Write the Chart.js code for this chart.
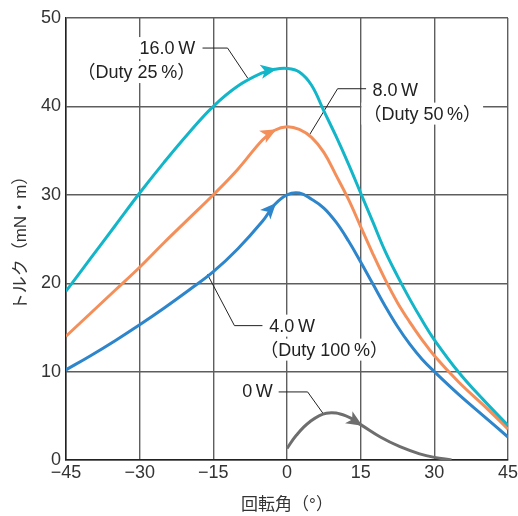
<!DOCTYPE html>
<html lang="ja">
<head>
<meta charset="UTF-8">
<title>トルク特性</title>
<script src="https://cdn.jsdelivr.net/npm/chart.js"></script>
<style>
  body { margin: 0; background: #fff; }
  #wrap { width: 518px; height: 516px; }
</style>
</head>
<body>
<div id="wrap"><canvas id="torqueChart"></canvas></div>
<script>
// rotation angle (deg) shared by the three powered curves
const angles = [-45, -40, -35, -30, -25, -20, -15, -10, -5, -2.5, 0, 2.5, 5, 7.5, 10, 12.5, 15, 17.5, 20, 22.5, 25, 27.5, 30, 35, 40, 45];
const torque16W = [19.1, 22.8, 26.5, 30.2, 33.7, 37.0, 40.0, 42.3, 43.8, 44.2, 44.3, 43.9, 42.4, 39.5, 36.6, 33.5, 30.2, 26.9, 23.6, 20.8, 18.2, 15.8, 13.6, 9.9, 6.8, 3.9];
const torque8W  = [14.0, 16.6, 19.2, 21.8, 24.6, 27.3, 30.0, 32.9, 36.2, 37.3, 37.7, 37.4, 36.5, 34.8, 32.2, 29.5, 26.4, 23.3, 20.4, 17.8, 15.6, 13.6, 11.8, 8.8, 6.2, 3.5];
const torque4W  = [10.2, 11.8, 13.5, 15.3, 17.2, 19.2, 21.3, 23.9, 27.0, 28.9, 30.0, 30.2, 29.5, 28.5, 26.9, 24.8, 22.4, 19.9, 17.4, 15.1, 13.1, 11.4, 10.0, 7.4, 5.0, 2.6];
// 0 W (detent torque) curve
const anglesOff = [0, 1.9, 4.6, 8, 12, 15, 19, 23, 27, 30, 33.5];
const torque0W  = [1.3, 2.8, 4.3, 5.3, 5.0, 4.0, 2.6, 1.5, 0.7, 0.3, 0];

const xTickValues = [-45, -30, -15, 0, 15, 30, 45];
const xTickLabels = ['\u221245', '\u221230', '\u221215', '0', '15', '30', '45'];
const yTickValues = [0, 10, 20, 30, 40, 50];

const toPoints = (xs, ys) => xs.map((x, i) => ({ x: x, y: ys[i] }));

// callout labels: text anchor and leader path in data units
const callouts = [
  { lines: ['16.0\u2009W', '（Duty 25\u2009%）'], align: 'right', at: [-18.7, 46.6], leader: [[-17.2, 46.6], [-12.1, 46.6], [-8.0, 43.2]] },
  { lines: ['8.0\u2009W', '（Duty 50\u2009%）'], align: 'left', at: [17.4, 41.9], leader: [[16.1, 42.0], [10.3, 42.0], [4.6, 36.8]] },
  { lines: ['4.0\u2009W', '（Duty 100\u2009%）'], align: 'left', at: [-3.6, 15.2], leader: [[-5.0, 15.2], [-10.7, 15.2], [-16.2, 21.0]] },
  { lines: ['0\u2009W'], align: 'right', at: [-2.9, 7.8], leader: [[-1.7, 7.7], [4.2, 7.7], [7.3, 5.3]] }
];

const FONT = '"Liberation Sans", "Noto Sans CJK JP", sans-serif';

const calloutPlugin = {
  id: 'callouts',
  beforeDatasetsDraw(chart) {
    const { ctx, scales: { x, y } } = chart;
    ctx.save();
    ctx.font = '18px ' + FONT;
    ctx.textBaseline = 'middle';
    callouts.forEach(c => {
      const px = x.getPixelForValue(c.at[0]);
      const py = y.getPixelForValue(c.at[1]);
      c.lines.forEach((t, i) => {
        const w = ctx.measureText(t).width;
        let tx = c.align === 'right' ? px - w : px;
        if (i > 0 && c.align === 'left') tx -= 9;
        const ty = py + i * 24;
        ctx.fillStyle = '#fff';
        ctx.fillRect(tx - 2, ty - 11, w + 4, 22);
        ctx.fillStyle = '#222';
        ctx.fillText(t, tx, ty + 1);
      });
      ctx.strokeStyle = '#222';
      ctx.lineWidth = 1;
      ctx.beginPath();
      c.leader.forEach((p, i) => {
        const lx = x.getPixelForValue(p[0]);
        const ly = y.getPixelForValue(p[1]);
        if (i === 0) ctx.moveTo(lx, ly); else ctx.lineTo(lx, ly);
      });
      ctx.stroke();
    });
    ctx.restore();
  },
  afterDatasetsDraw(chart) {
    const ctx = chart.ctx;
    chart.data.datasets.forEach((ds, i) => {
      if (ds.arrowIndex == null) return;
      const pt = chart.getDatasetMeta(i).data[ds.arrowIndex];
      const dx = pt.cp2x - pt.cp1x;
      const dy = pt.cp2y - pt.cp1y;
      const a = Math.atan2(dy, dx);
      ctx.save();
      ctx.translate(pt.x, pt.y);
      ctx.rotate(a);
      ctx.fillStyle = ds.borderColor;
      ctx.beginPath();
      ctx.moveTo(2, 0);
      ctx.lineTo(-14, -7);
      ctx.lineTo(-10, 0);
      ctx.lineTo(-14, 7);
      ctx.closePath();
      ctx.fill();
      ctx.restore();
    });
  }
};

const lineSet = (label, pts, color, arrowIndex) => ({
  label: label,
  data: pts,
  borderColor: color,
  backgroundColor: color,
  borderWidth: 3,
  pointRadius: 0,
  fill: false,
  tension: 0.4,
  arrowIndex: arrowIndex
});

new Chart(document.getElementById('torqueChart'), {
  type: 'line',
  data: {
    datasets: [
      lineSet('16.0W', toPoints(angles, torque16W), '#13b5c8', 9),
      lineSet('8.0W', toPoints(angles, torque8W), '#f58f5a', 9),
      lineSet('4.0W', toPoints(angles, torque4W), '#2d85cb', 9),
      lineSet('0W', toPoints(anglesOff, torque0W), '#6e6e6e', 5)
    ]
  },
  options: {
    responsive: true,
    maintainAspectRatio: false,
    animation: false,
    layout: { padding: { left: 0, top: 18, right: 10, bottom: 0 } },
    plugins: { legend: { display: false }, tooltip: { enabled: false } },
    scales: {
      x: {
        type: 'linear',
        min: -45,
        max: 45,
        afterBuildTicks: s => { s.ticks = xTickValues.map(v => ({ value: v })); },
        afterFit: s => { s.height = 56; s.paddingLeft = 0; s.paddingRight = 0; },
        ticks: {
          color: '#333',
          font: { family: FONT, size: 18 },
          padding: 2,
          maxRotation: 0,
          callback: (v, i) => xTickLabels[i]
        },
        grid: { color: '#5e5e5e', lineWidth: 1.4, drawTicks: false },
        border: { color: '#222', width: 1.5 },
        title: { display: true, text: '回転角（°）', color: '#333', font: { family: FONT, size: 17 }, padding: { top: 0, bottom: 0 } }
      },
      y: {
        min: 0,
        max: 50,
        afterBuildTicks: s => { s.ticks = yTickValues.map(v => ({ value: v })); },
        afterFit: s => { s.width = 66; },
        ticks: {
          color: '#333',
          font: { family: FONT, size: 18 },
          padding: 5
        },
        grid: { color: '#5e5e5e', lineWidth: 1.4, drawTicks: false },
        border: { color: '#222', width: 1.5 },
        title: { display: true, text: 'トルク（mN・m）', color: '#333', font: { family: FONT, size: 17 }, padding: { top: 11, bottom: 0 } }
      }
    }
  },
  plugins: [calloutPlugin]
});
</script>
</body>
</html>
